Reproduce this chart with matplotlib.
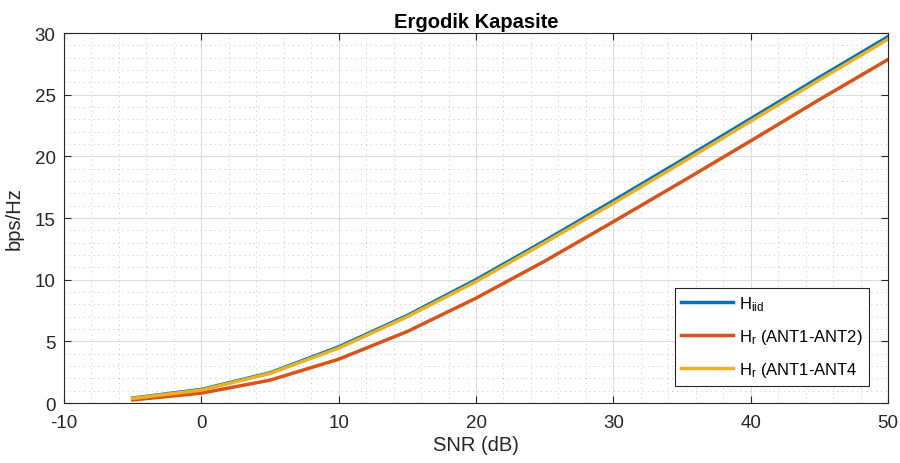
import matplotlib.pyplot as plt
from matplotlib.ticker import MultipleLocator

plt.rcParams['font.family'] = ['Liberation Sans', 'DejaVu Sans']
plt.rcParams['mathtext.default'] = 'regular'
plt.rcParams['axes.unicode_minus'] = False

snr = [-5, 0, 5, 10, 15, 20, 25, 30, 35, 40, 45, 50]
c_iid = [0.40, 1.10, 2.45, 4.55, 7.10, 10.00, 13.15, 16.40, 19.70, 23.05, 26.40, 29.70]
c_ant12 = [0.25, 0.80, 1.85, 3.55, 5.80, 8.50, 11.50, 14.70, 17.95, 21.25, 24.60, 27.85]
c_ant14 = [0.37, 1.05, 2.40, 4.45, 7.00, 9.85, 13.00, 16.20, 19.50, 22.85, 26.20, 29.50]

labels = ['H$_{iid}$', 'H$_r$ (ANT1-ANT2)', 'H$_r$ (ANT1-ANT4']
colors = ['#0072BD', '#D95319', '#EDB120']

fig = plt.figure(figsize=(9, 4.64), dpi=100)
ax = fig.add_axes([0.0711, 0.1293, 0.9156, 0.7974])

for y, lab, c in zip([c_iid, c_ant12, c_ant14], labels, colors):
    ax.plot(snr, y, color=c, lw=2.5, label=lab)

ax.set_xlim(-10, 50)
ax.set_ylim(0, 30)
ax.xaxis.set_major_locator(MultipleLocator(10))
ax.xaxis.set_minor_locator(MultipleLocator(2))
ax.yaxis.set_major_locator(MultipleLocator(5))
ax.yaxis.set_minor_locator(MultipleLocator(1))
ax.grid(True, which='major', color='#dcdcdc', lw=0.8)
ax.grid(True, which='minor', color='#c4c4c4', lw=0.7, linestyle=(0, (1, 4)))
ax.set_axisbelow(True)

for s in ax.spines.values():
    s.set_color('#262626')
    s.set_linewidth(0.8)
ax.tick_params(which='both', direction='in', top=True, right=True,
               colors='#262626', labelsize=13.5)
ax.tick_params(which='major', length=5)
ax.tick_params(which='minor', length=0)
ax.tick_params(axis='x', pad=8)
ax.tick_params(axis='y', pad=6)

ax.set_xlabel('SNR (dB)', fontsize=14.5, color='#262626', labelpad=3)
ax.set_ylabel('bps/Hz', fontsize=14.5, color='#262626', labelpad=8)
ax.set_title('Ergodik Kapasite', fontsize=14.5, fontweight='bold', pad=4)

leg = ax.legend(loc='lower right', bbox_to_anchor=(0.977, 0.046), borderaxespad=0,
                fontsize=12, fancybox=False, edgecolor='#262626', framealpha=1,
                handlelength=3.1, handletextpad=0.35, labelspacing=0.85, borderpad=0.4)
leg.get_frame().set_linewidth(0.8)

fig.savefig('out.png', dpi=100)
